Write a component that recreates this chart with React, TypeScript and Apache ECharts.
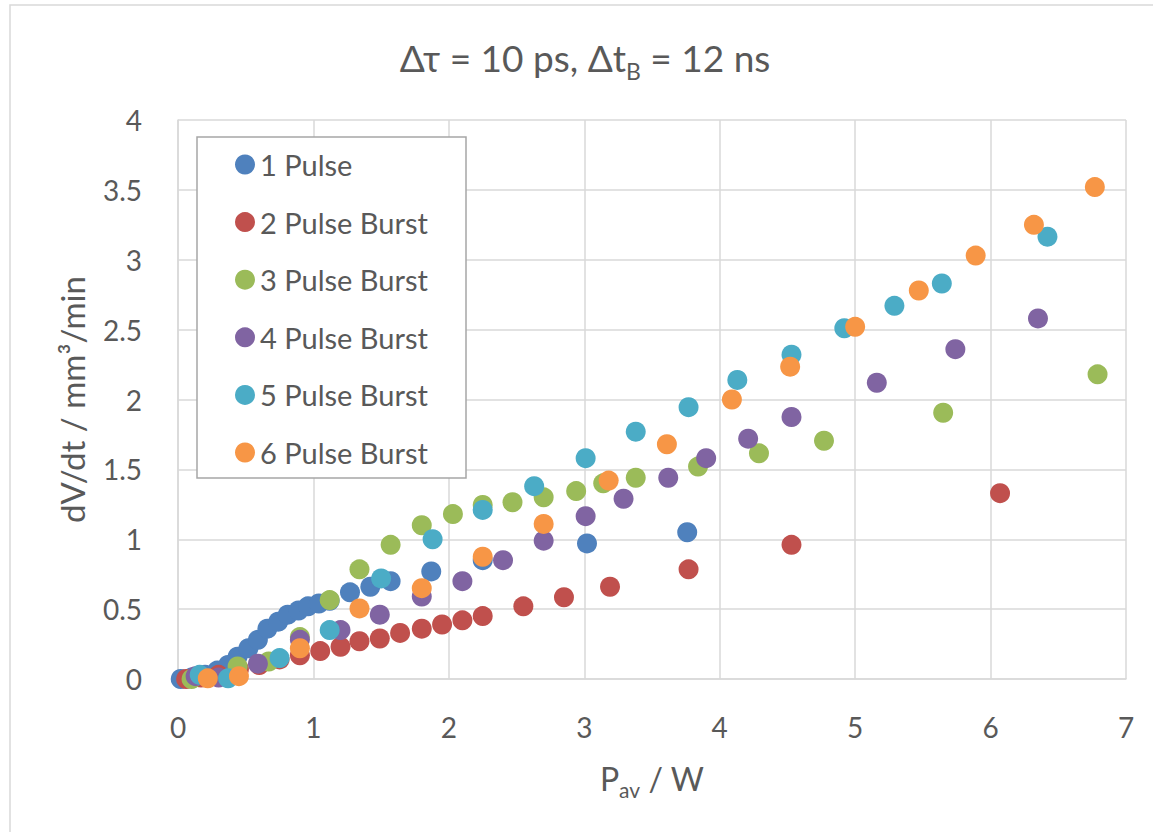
import React, { useEffect, useRef } from "react";
import * as echarts from "echarts";

const seriesNames = ["1 Pulse", "2 Pulse Burst", "3 Pulse Burst", "4 Pulse Burst", "5 Pulse Burst", "6 Pulse Burst"];
const seriesColors = ["#4F81BD", "#C0504D", "#9BBB59", "#8064A2", "#4BACC6", "#F79646"];

const xTicks = [0, 1, 2, 3, 4, 5, 6, 7];
const yTicks = [0, 0.5, 1, 1.5, 2, 2.5, 3, 3.5, 4];

const pulse1X = [0.02, 0.10, 0.20, 0.29, 0.37, 0.44, 0.52, 0.59, 0.66, 0.74, 0.81, 0.89, 0.96, 1.04, 1.12, 1.27, 1.42, 1.57, 1.87, 2.25, 3.02, 3.76];
const pulse1Y = [0.00, 0.01, 0.03, 0.06, 0.10, 0.16, 0.22, 0.28, 0.36, 0.41, 0.46, 0.49, 0.52, 0.54, 0.56, 0.62, 0.66, 0.70, 0.77, 0.85, 0.97, 1.05];

const pulse2X = [0.06, 0.17, 0.30, 0.45, 0.60, 0.75, 0.90, 1.05, 1.20, 1.34, 1.49, 1.64, 1.80, 1.95, 2.10, 2.25, 2.55, 2.85, 3.19, 3.77, 4.53, 6.07];
const pulse2Y = [0.00, 0.01, 0.03, 0.07, 0.10, 0.14, 0.17, 0.20, 0.23, 0.27, 0.29, 0.33, 0.36, 0.39, 0.42, 0.45, 0.52, 0.585, 0.66, 0.785, 0.96, 1.33];

const pulse3X = [0.10, 0.44, 0.67, 0.90, 1.12, 1.34, 1.57, 1.80, 2.03, 2.25, 2.47, 2.70, 2.94, 3.14, 3.38, 3.84, 4.29, 4.77, 5.65, 6.79];
const pulse3Y = [0.00, 0.09, 0.125, 0.30, 0.565, 0.785, 0.96, 1.10, 1.18, 1.245, 1.265, 1.30, 1.345, 1.40, 1.44, 1.52, 1.615, 1.705, 1.905, 2.18];

const pulse4X = [0.13, 0.30, 0.59, 0.90, 1.20, 1.49, 1.80, 2.10, 2.40, 2.70, 3.01, 3.29, 3.62, 3.90, 4.21, 4.53, 5.16, 5.74, 6.35];
const pulse4Y = [0.02, 0.01, 0.11, 0.28, 0.35, 0.46, 0.59, 0.70, 0.85, 0.99, 1.165, 1.29, 1.44, 1.58, 1.72, 1.875, 2.12, 2.36, 2.58];

const pulse5X = [0.16, 0.37, 0.75, 1.12, 1.50, 1.88, 2.25, 2.63, 3.01, 3.38, 3.77, 4.13, 4.53, 4.92, 5.29, 5.64, 6.42];
const pulse5Y = [0.03, 0.005, 0.15, 0.35, 0.72, 1.00, 1.21, 1.38, 1.58, 1.77, 1.945, 2.14, 2.32, 2.51, 2.67, 2.83, 3.165];

const pulse6X = [0.22, 0.45, 0.90, 1.34, 1.80, 2.25, 2.70, 3.18, 3.61, 4.09, 4.52, 5.00, 5.47, 5.89, 6.32, 6.77];
const pulse6Y = [0.005, 0.02, 0.22, 0.505, 0.65, 0.875, 1.11, 1.42, 1.68, 2.00, 2.235, 2.52, 2.78, 3.03, 3.25, 3.52];

const allX = [pulse1X, pulse2X, pulse3X, pulse4X, pulse5X, pulse6X];
const allY = [pulse1Y, pulse2Y, pulse3Y, pulse4Y, pulse5Y, pulse6Y];

const FONT = "Lato, 'Noto Sans', sans-serif";
const TEXT_COLOR = "#595959";
const GRID_COLOR = "#d9d9d9";

export default function App() {
  const ref = useRef<HTMLDivElement>(null);

  useEffect(() => {
    if (!ref.current) return;
    const chart = echarts.init(ref.current, null, { renderer: "svg" });

    const series = seriesNames.map((name, i) => ({
      name,
      type: "scatter",
      symbol: "circle",
      symbolSize: 20,
      itemStyle: { color: seriesColors[i], opacity: 1 },
      data: allX[i].map((x, j) => [x, allY[i][j]]),
      z: 2,
    }));

    const option = {
      animation: false,
      backgroundColor: "#ffffff",
      textStyle: { fontFamily: FONT },
      grid: { left: 178, right: 27, top: 120, bottom: 153, containLabel: false },
      xAxis: {
        type: "value",
        min: xTicks[0],
        max: xTicks[xTicks.length - 1],
        interval: 1,
        name: "{m|P}{s|av}{m| / W}",
        nameLocation: "middle",
        nameGap: 77,
        nameTextStyle: {
          rich: {
            m: { fontSize: 32, color: TEXT_COLOR, fontFamily: FONT, lineHeight: 44, verticalAlign: "middle" },
            s: { fontSize: 21, color: TEXT_COLOR, fontFamily: FONT, lineHeight: 18, verticalAlign: "bottom" },
          },
        },
        axisLine: { show: true, lineStyle: { color: GRID_COLOR, width: 1.5 } },
        axisTick: { show: false },
        axisLabel: { color: TEXT_COLOR, fontSize: 28, fontFamily: FONT, margin: 34 },
        splitLine: { show: true, lineStyle: { color: GRID_COLOR, width: 1.5 } },
      },
      yAxis: {
        type: "value",
        min: yTicks[0],
        max: yTicks[yTicks.length - 1],
        interval: 0.5,
        name: "dV/dt / mm³/min",
        nameLocation: "middle",
        nameGap: 90,
        nameTextStyle: { fontSize: 33, color: TEXT_COLOR, fontFamily: FONT },
        axisLine: { show: true, lineStyle: { color: GRID_COLOR, width: 1.5 } },
        axisTick: { show: false },
        axisLabel: { color: TEXT_COLOR, fontSize: 28, fontFamily: FONT, margin: 36 },
        splitLine: { show: true, lineStyle: { color: GRID_COLOR, width: 1.5 } },
      },
      legend: {
        orient: "vertical",
        left: 235,
        top: 150,
        padding: 0,
        itemWidth: 20,
        itemHeight: 20,
        itemGap: 28.6,
        icon: "circle",
        z: 20,
        data: seriesNames,
        textStyle: { color: TEXT_COLOR, fontSize: 29, fontFamily: FONT, lineHeight: 28 },
      },
      graphic: [
        {
          type: "rect",
          z: 0,
          silent: true,
          shape: { x: 10, y: 5, width: 1200, height: 900 },
          style: { fill: "none", stroke: GRID_COLOR, lineWidth: 1.5 },
        },
        {
          type: "rect",
          z: 10,
          silent: true,
          shape: { x: 197, y: 137, width: 269, height: 341 },
          style: { fill: "#ffffff", stroke: "#a6a6a6", lineWidth: 1.5 },
        },
        {
          type: "text",
          z: 10,
          x: 585,
          y: 57,
          style: {
            text: "{m|Δτ = 10 ps, Δt}{s|B}{m| = 12 ns}",
            align: "center",
            verticalAlign: "middle",
            rich: {
              m: { fontSize: 37, fill: TEXT_COLOR, fontFamily: FONT, lineHeight: 50, verticalAlign: "middle" },
              s: { fontSize: 23, fill: TEXT_COLOR, fontFamily: FONT, lineHeight: 19, verticalAlign: "bottom" },
            },
          },
        },
      ],
      series,
    };

    chart.setOption(option as any);
    return () => chart.dispose();
  }, []);

  return (
    <div
      ref={ref}
      style={{ position: "absolute", left: 0, top: 0, width: 1153, height: 832, background: "#fff" }}
    />
  );
}
